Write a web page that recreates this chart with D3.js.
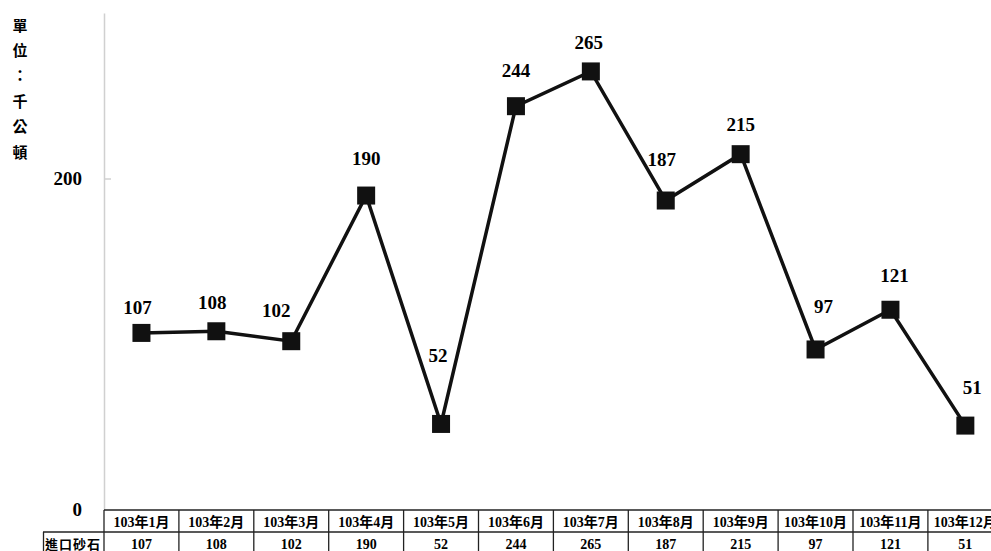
<!DOCTYPE html>
<html><head><meta charset="utf-8">
<script src="https://cdn.jsdelivr.net/npm/d3@7/dist/d3.min.js"></script>
<style>
html,body{margin:0;padding:0;background:#fff;}
svg{display:block;}
</style></head>
<body>
<svg id="chart" width="991" height="551"></svg>
<script>
const categories = ["103年1月","103年2月","103年3月","103年4月","103年5月","103年6月","103年7月","103年8月","103年9月","103年10月","103年11月","103年12月"];
const values = [107,108,102,190,52,244,265,187,215,97,121,51];
const seriesName = "進口砂石";
const yTicks = [0,200];
const unitLabel = ["單","位","：","千","公","頓"];
// label placement (layout only): offset of label centre from its marker, px
const labelDx = [-4,-4,-15,0,-3,0,-2,-4,0,8,4,7];
const labelDy = [-25,-29,-31,-37,-68,-36,-29,-41,-30,-43,-34,-38];

const svg = d3.select("#chart");
const serif = "'Liberation Serif','Times New Roman','Noto Sans CJK TC',serif";
const mixed = "'Liberation Serif','Noto Sans CJK TC',serif";

const x = d3.scaleBand().domain(categories).range([104, 104 + 12*74.9]).padding(0);
const y = d3.scaleLinear().domain([0,300]).range([510, 13.5]);
const cx = d => x(d) + x.bandwidth()/2;

// y axis line
svg.append("line").attr("x1",104.5).attr("x2",104.5).attr("y1",y(300)).attr("y2",y(0))
  .attr("stroke","#d0d0d0").attr("stroke-width",1.5);
// ticks
yTicks.forEach(t=>{
  if(t>0) svg.append("line").attr("x1",104.5).attr("x2",111).attr("y1",y(t)).attr("y2",y(t))
    .attr("stroke","#d0d0d0").attr("stroke-width",1.5);
  svg.append("text").attr("x",82).attr("y",y(t)+6).attr("text-anchor","end")
    .attr("font-family",serif).attr("font-weight","bold").attr("font-size",19).text(t);
});

// unit label
unitLabel.forEach((c,i)=>{
  svg.append("text").attr("x",20).attr("y",25 + i*25.4 + 5.5).attr("text-anchor","middle")
    .attr("font-family","'Noto Sans CJK TC',sans-serif").attr("font-weight","bold")
    .attr("font-size",15).text(c);
});

// line
const line = d3.line().x((d,i)=>cx(categories[i])).y(d=>y(d));
svg.append("path").datum(values).attr("d",line).attr("fill","none")
  .attr("stroke","#111").attr("stroke-width",3.5).attr("stroke-linejoin","miter");

// markers
svg.selectAll("rect.m").data(values).join("rect").attr("class","m")
  .attr("x",(d,i)=>cx(categories[i])-9).attr("y",d=>y(d)-9)
  .attr("width",18).attr("height",18).attr("fill","#111");

// data labels
svg.selectAll("text.lbl").data(values).join("text").attr("class","lbl")
  .attr("x",(d,i)=>cx(categories[i])+labelDx[i]).attr("y",(d,i)=>y(d)+labelDy[i]+6.5)
  .attr("text-anchor","middle").attr("font-family",serif).attr("font-weight","bold")
  .attr("font-size",19).text(d=>d);

// table
const t0 = 510, t1 = 532, t2 = 560;
const tx0 = 104, tx1 = 104 + 12*74.9;
const g = svg.append("g").attr("stroke","#222").attr("stroke-width",1.3);
g.append("line").attr("x1",tx0).attr("x2",tx1).attr("y1",t0).attr("y2",t0);
g.append("line").attr("x1",43).attr("x2",tx1).attr("y1",t1).attr("y2",t1);
g.append("line").attr("x1",43.5).attr("x2",43.5).attr("y1",t1).attr("y2",t2);
categories.forEach(c=>{
  g.append("line").attr("x1",x(c)).attr("x2",x(c)).attr("y1",t0).attr("y2",t2);
});
svg.selectAll("text.hdr").data(categories).join("text").attr("class","hdr")
  .attr("x",d=>cx(d)).attr("y",526.5).attr("text-anchor","middle")
  .attr("font-family",mixed).attr("font-weight","bold").attr("font-size",14).text(d=>d);
svg.selectAll("text.val").data(values).join("text").attr("class","val")
  .attr("x",(d,i)=>cx(categories[i])).attr("y",548.5).attr("text-anchor","middle")
  .attr("font-family",mixed).attr("font-weight","bold").attr("font-size",14).text(d=>d);
svg.append("text").attr("x",73).attr("y",548.5).attr("text-anchor","middle")
  .attr("font-family","'Noto Sans CJK TC',sans-serif").attr("font-weight","bold")
  .attr("font-size",13).attr("letter-spacing",1).text(seriesName);
</script>
</body></html>
